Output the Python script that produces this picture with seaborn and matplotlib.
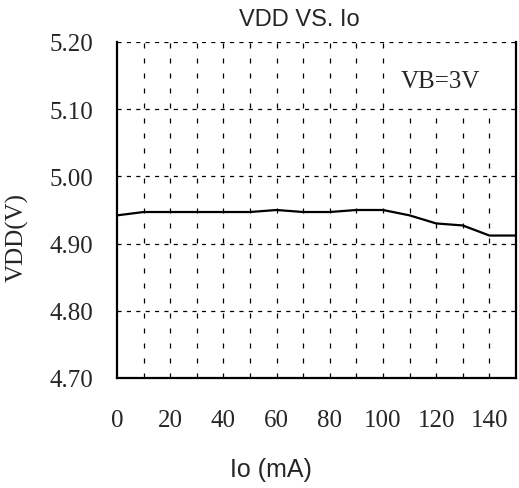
import matplotlib
matplotlib.use("Agg")
import matplotlib.pyplot as plt
import seaborn as sns
import pandas as pd

io_ma = [0, 10, 20, 30, 40, 50, 60, 70, 80, 90, 100, 110, 120, 130, 140, 150]
vdd_v = [4.942, 4.947, 4.947, 4.947, 4.947, 4.947, 4.950, 4.947, 4.947, 4.950,
         4.950, 4.942, 4.930, 4.927, 4.912, 4.912]
x_ticks = [0, 20, 40, 60, 80, 100, 120, 140]
x_grid = [10, 20, 30, 40, 50, 60, 70, 80, 90, 100, 110, 120, 130, 140]
y_ticks = [4.70, 4.80, 4.90, 5.00, 5.10, 5.20]
title = "VDD VS. Io"
x_label = "Io (mA)"
y_label = "VDD(V)"
annotation = "VB=3V"

df = pd.DataFrame({"Io": io_ma, "VDD": vdd_v})

sns.set_style("white")
fig = plt.figure(figsize=(5.19, 4.89), dpi=100)
ax = fig.add_axes([117/519, 1-379/489, (516-117)/519, (379-43)/489])

sns.lineplot(data=df, x="Io", y="VDD", ax=ax, color="black", linewidth=1.6, zorder=3)

ax.set_xlim(0, 150)
ax.set_ylim(4.70, 5.20)
ax.set_xticks(x_ticks)
ax.set_yticks(y_ticks)
ax.set_xticklabels([str(t) for t in x_ticks], family="Liberation Serif", fontsize=18)
ax.set_yticklabels([f"{t:.2f}" for t in y_ticks], family="Liberation Serif", fontsize=18)
ax.tick_params(axis="x", which="both", length=0, pad=22)
ax.tick_params(axis="y", which="both", length=0, pad=17)

# vertical dashed grid; lines right of 100 stop below the annotation box
box_left, box_bottom = 100, 5.10
for xg in x_grid:
    top = box_bottom if xg > box_left else 5.20
    ax.vlines(xg, 4.70, top, colors="black", linewidth=0.9,
              linestyles=[(0, (4.0, 8.0))], zorder=0.6)
ax.yaxis.grid(True, which="major", color="black", linewidth=0.9,
              linestyle=(0, (3.3, 4.2)))
ax.set_axisbelow(True)

for side in ["left", "bottom", "right"]:
    ax.spines[side].set_visible(True)
    ax.spines[side].set_color("black")
    ax.spines[side].set_linewidth(1.6)
ax.spines["top"].set_visible(False)

ax.text(106.5, 5.142, annotation, family="Liberation Serif", fontsize=18,
        ha="left", va="center", zorder=4)

ax.set_xlabel(x_label, family="Liberation Sans", fontsize=18)
ax.xaxis.set_label_coords((271-117)/399, -(470-379)/336)
ax.set_ylabel(y_label, family="Liberation Serif", fontsize=18)
ax.yaxis.set_label_coords(-(117-17)/399, (379-237)/336)
ax.yaxis.label.set_va("center")
ax.xaxis.label.set_va("center")

fig.text(299/519, 1-20/489, title, family="Liberation Sans", fontsize=17,
         ha="center", va="center")

fig.savefig("out.png", dpi=100)
